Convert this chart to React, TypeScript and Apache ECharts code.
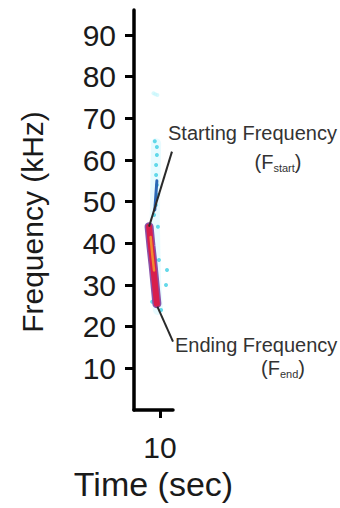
import React, { useEffect, useRef } from "react";
import * as echarts from "echarts";

const yTicks = [10, 20, 30, 40, 50, 60, 70, 80, 90];
const xTicks = [10];

// main call contour (time in sec, frequency in kHz)
const callTimes = [9.58, 9.65, 9.73, 9.81, 9.88];
const callFreqs = [44, 39.5, 35, 30, 25.5];
// bright inner core
const coreTimes = [9.64, 9.7, 9.77];
const coreFreqs = [41.5, 37.5, 33.5];
// blue streak above the call
const streakTimes = [9.88, 9.84, 9.8];
const streakFreqs = [55, 51.5, 48];
// scattered cyan energy
const dotTimes = [9.88, 9.88, 9.85, 9.85, 9.88, 9.9, 9.84, 9.77, 10.27, 10.23, 9.92, 10.04, 9.8, 9.92, 9.7, 9.96];
const dotFreqs = [63.1, 61.2, 58.8, 56.4, 54, 51.6, 49.2, 46.8, 33.6, 30, 25.2, 24, 64.5, 44, 26, 36];
// faint echo
const echoTimes = [9.75, 9.82, 9.9];
const echoFreqs = [76, 75.8, 75.6];
// annotation pointers
const startLineTimes = [9.58, 10.46];
const startLineFreqs = [44, 62];
const endLineTimes = [9.9, 10.5];
const endLineFreqs = [24.8, 16.4];

const FONT = "'Liberation Sans', Arial, Helvetica, sans-serif";

const pairs = (xs: number[], ys: number[]) => xs.map((x, i) => [x, ys[i]]);

export default function App() {
  const ref = useRef<HTMLDivElement>(null);
  useEffect(() => {
    if (!ref.current) return;
    const chart = echarts.init(ref.current, undefined, { renderer: "svg" });
    chart.setOption({
      animation: false,
      backgroundColor: "#ffffff",
      grid: { left: 134, right: 167, top: 10, bottom: 98 },
      xAxis: {
        type: "value",
        min: 9,
        max: 10.5,
        interval: 1,
        splitLine: { show: false },
        axisLine: { lineStyle: { color: "#000", width: 3.5 } },
        axisTick: { customValues: xTicks, length: 8, lineStyle: { color: "#000", width: 3 } },
        axisLabel: {
          customValues: xTicks,
          fontSize: 30,
          color: "#1a1a1a",
          fontFamily: FONT,
          margin: 22,
        },
        name: "Time (sec)",
        nameLocation: "middle",
        nameGap: 57,
        nameTextStyle: { fontSize: 34, color: "#1a1a1a", fontFamily: FONT },
      },
      yAxis: {
        type: "value",
        min: 0,
        max: 96,
        interval: 10,
        splitLine: { show: false },
        axisLine: { lineStyle: { color: "#000", width: 3.5 } },
        axisTick: { customValues: yTicks, length: 9, lineStyle: { color: "#000", width: 3 } },
        axisLabel: {
          customValues: yTicks,
          fontSize: 30,
          color: "#1a1a1a",
          fontFamily: FONT,
          margin: 18,
        },
      },
      graphic: [
        {
          type: "text",
          x: 32,
          y: 222,
          rotation: Math.PI / 2,
          style: {
            text: "Frequency (kHz)",
            fontSize: 30,
            fontFamily: FONT,
            fill: "#1a1a1a",
            textAlign: "center",
            textVerticalAlign: "middle",
          },
        },
        {
          type: "text",
          x: 168,
          y: 133,
          style: {
            text: "Starting Frequency",
            fontSize: 20,
            fontFamily: FONT,
            fill: "#333",
            textAlign: "left",
            textVerticalAlign: "middle",
          },
        },
        {
          type: "text",
          x: 278,
          y: 162,
          style: {
            text: "{n|(F}{s|start}{n|)}",
            fontFamily: FONT,
            fill: "#333",
            textAlign: "center",
            textVerticalAlign: "middle",
            rich: {
              n: { fontSize: 20, fontFamily: FONT, fill: "#333", lineHeight: 22 },
              s: { fontSize: 11, fontFamily: FONT, fill: "#333", verticalAlign: "bottom", lineHeight: 22 },
            },
          },
        },
        {
          type: "text",
          x: 175,
          y: 345,
          style: {
            text: "Ending Frequency",
            fontSize: 20,
            fontFamily: FONT,
            fill: "#333",
            textAlign: "left",
            textVerticalAlign: "middle",
          },
        },
        {
          type: "text",
          x: 283,
          y: 368,
          style: {
            text: "{n|(F}{s|end}{n|)}",
            fontFamily: FONT,
            fill: "#333",
            textAlign: "center",
            textVerticalAlign: "middle",
            rich: {
              n: { fontSize: 20, fontFamily: FONT, fill: "#333", lineHeight: 22 },
              s: { fontSize: 11, fontFamily: FONT, fill: "#333", verticalAlign: "bottom", lineHeight: 22 },
            },
          },
        },
      ],
      series: [
        {
          type: "line",
          data: pairs([9.85, 9.8, 9.84, 9.92], [64, 46, 32, 24]),
          symbol: "none",
          clip: false,
          lineStyle: { color: "#b4f3ff", width: 10, opacity: 0.3, cap: "round" },
          z: 1,
        },
        {
          type: "scatter",
          data: pairs(echoTimes, echoFreqs),
          symbolSize: 4,
          itemStyle: { color: "#bff5fb", opacity: 0.6 },
          z: 2,
        },
        {
          type: "scatter",
          data: pairs(dotTimes, dotFreqs),
          symbolSize: 4,
          itemStyle: { color: "#3fcfe4", opacity: 0.8 },
          z: 2,
        },
        {
          type: "line",
          data: pairs(streakTimes, streakFreqs),
          symbol: "none",
          clip: false,
          lineStyle: { color: "#2a68b5", width: 3, cap: "round" },
          z: 3,
        },
        {
          type: "line",
          data: pairs(callTimes, callFreqs),
          symbol: "none",
          clip: false,
          lineStyle: { color: "#8a52a8", width: 9, cap: "round" },
          z: 4,
        },
        {
          type: "line",
          data: pairs(callTimes, callFreqs),
          symbol: "none",
          clip: false,
          lineStyle: { color: "#d81e4c", width: 6, cap: "round" },
          z: 5,
        },
        {
          type: "line",
          data: pairs(coreTimes, coreFreqs),
          symbol: "none",
          clip: false,
          lineStyle: { color: "#f28a2e", width: 2.5, cap: "round" },
          z: 6,
        },
        {
          type: "line",
          data: pairs(startLineTimes, startLineFreqs),
          symbol: "none",
          clip: false,
          lineStyle: { color: "#2a2a2a", width: 2 },
          z: 7,
        },
        {
          type: "line",
          data: pairs(endLineTimes, endLineFreqs),
          symbol: "none",
          clip: false,
          lineStyle: { color: "#2a2a2a", width: 2 },
          z: 7,
        },
      ],
    });
    return () => chart.dispose();
  }, []);
  return <div ref={ref} style={{ width: 340, height: 508, position: "absolute", left: 0, top: 0 }} />;
}
